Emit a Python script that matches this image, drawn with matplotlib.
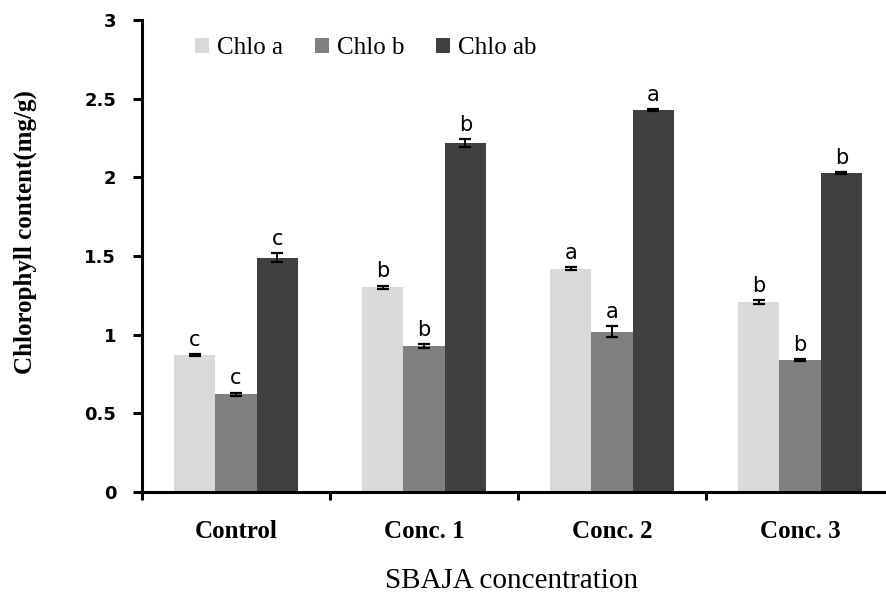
import numpy as np
from matplotlib import pyplot as plt
from matplotlib.patches import Patch

groups = ['Control', 'Conc. 1', 'Conc. 2', 'Conc. 3']
series = ['Chlo a', 'Chlo b', 'Chlo ab']
colors = ['#d9d9d9', '#808080', '#404040']

chlo_a = [0.87, 1.30, 1.42, 1.21]
chlo_b = [0.62, 0.93, 1.02, 0.84]
chlo_ab = [1.49, 2.22, 2.43, 2.03]

err_a = [0.008, 0.012, 0.012, 0.012]
err_b = [0.012, 0.012, 0.035, 0.006]
err_ab = [0.028, 0.025, 0.006, 0.006]

lett_a = ['c', 'b', 'a', 'b']
lett_b = ['c', 'b', 'a', 'b']
lett_ab = ['c', 'b', 'a', 'b']

values = [chlo_a, chlo_b, chlo_ab]
errors = [err_a, err_b, err_ab]
letters = [lett_a, lett_b, lett_ab]

fig = plt.figure(figsize=(8.87, 5.96), dpi=100)
ax = fig.add_axes([142 / 887, 104 / 596, 752 / 887, 472 / 596])

x = np.arange(len(groups))
w = 0.22
for i in range(3):
    xs = x + (i - 1) * w
    ax.bar(xs, values[i], w, color=colors[i], edgecolor='none', zorder=2)
    ax.errorbar(xs, values[i], yerr=errors[i], fmt='none', ecolor='black',
                elinewidth=1.4, capsize=4.5, capthick=1.6, zorder=3)
    for j in range(len(groups)):
        ax.annotate(letters[i][j], (xs[j], values[i][j] + errors[i][j]),
                    xytext=(0, 3), textcoords='offset points',
                    ha='center', va='bottom', fontsize=15, family='DejaVu Sans')

ax.set_xlim(-0.5, 3.5)
ax.set_ylim(0, 3)
ax.set_yticks([0, 0.5, 1, 1.5, 2, 2.5, 3])
ax.set_yticklabels(['0', '0.5', '1', '1.5', '2', '2.5', '3'],
                   fontsize=13, fontweight='bold', family='DejaVu Sans')
ax.set_xticks(x)
ax.set_xticklabels(groups, fontsize=18, fontweight='bold', family='Liberation Serif')
ax.set_xticks([-0.5, 0.5, 1.5, 2.5, 3.5], minor=True)
ax.tick_params(axis='x', which='major', length=0, pad=20)
ax.tick_params(axis='x', which='minor', length=6, width=2.2, direction='out')
ax.tick_params(axis='y', length=6.5, width=2.2, direction='out', pad=12)

for s in ['top', 'right']:
    ax.spines[s].set_visible(False)
for s in ['left', 'bottom']:
    ax.spines[s].set_linewidth(2.2)

ax.set_ylabel('Chlorophyll content(mg/g)', fontsize=18, fontweight='bold',
              family='Liberation Serif')
ax.yaxis.set_label_coords(-0.14, 0.551)
fig.text(512 / 887, 1 - 581 / 596, 'SBAJA concentration', fontsize=21,
         family='Liberation Serif', ha='center', va='center')

handles = [Patch(facecolor=c, edgecolor='none') for c in colors]
ax.legend(handles, series, ncol=3, frameon=False, loc='center left',
          bbox_to_anchor=(195 / 887, 1 - 48 / 596), bbox_transform=fig.transFigure,
          prop={'family': 'Liberation Serif', 'size': 18},
          handlelength=0.55, handleheight=0.55, handletextpad=0.35,
          columnspacing=1.25, borderpad=0, borderaxespad=0)

plt.savefig('out.png', dpi=100)
